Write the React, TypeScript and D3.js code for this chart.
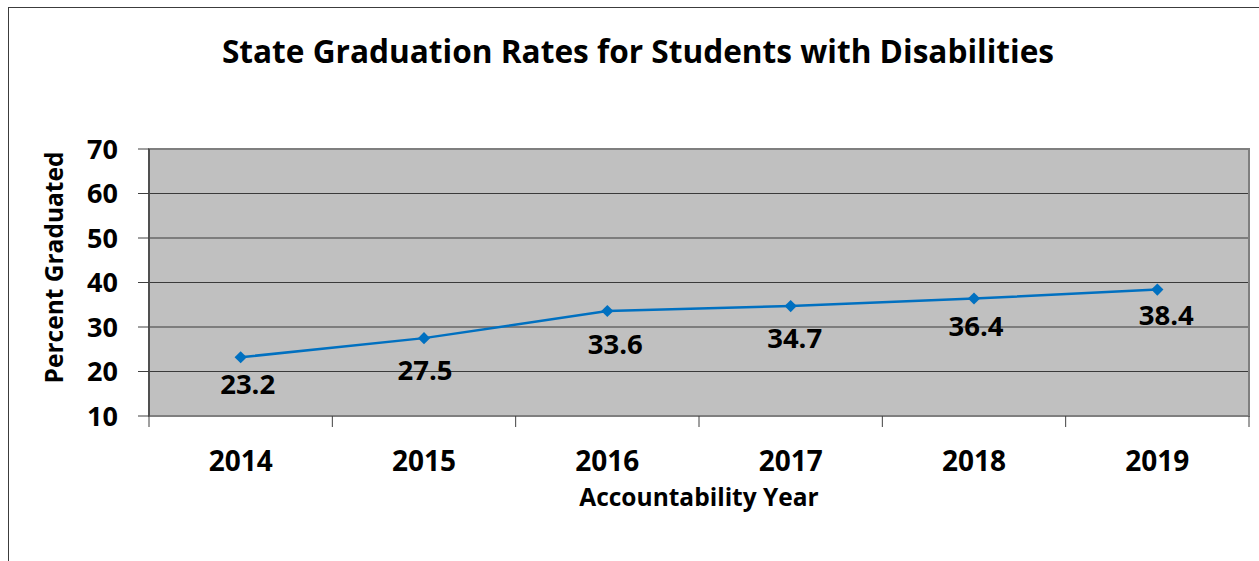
import React from "react";
import * as d3 from "d3";

const years = ["2014", "2015", "2016", "2017", "2018", "2019"];
const rates = [23.2, 27.5, 33.6, 34.7, 36.4, 38.4];
const yTicks = [10, 20, 30, 40, 50, 60, 70];
// per-label nudges (px) relative to the default "below" placement
const labelNudgeX = [7, 1, 8, 4, 2, 9];
const labelNudgeY = [-3, 2, 3, 2, -3, -5];

const title = "State Graduation Rates for Students with Disabilities";
const xTitle = "Accountability Year";
const yTitle = "Percent Graduated";

const W = 1259;
const H = 561;
const plot = { left: 149, top: 149, right: 1249, bottom: 416 };
const FONT = "'Open Sans', 'Liberation Sans', sans-serif";
const LINE = "#0070C0";

export default function App() {
  const x = d3.scaleBand<string>().domain(years).range([plot.left, plot.right]).padding(0);
  const y = d3.scaleLinear().domain([10, 70]).range([plot.bottom, plot.top]);
  const cx = (d: string) => (x(d) as number) + x.bandwidth() / 2;
  const line = d3
    .line<number>()
    .x((_, i) => cx(years[i]))
    .y((v) => y(v));
  const diamond = d3.symbol().type(d3.symbolDiamond2).size(95)();
  const bounds = [...years.map((d) => x(d) as number), plot.right];

  return (
    <svg
      width={W}
      height={H}
      style={{ position: "absolute", left: 0, top: 0, background: "#fff" }}
      fontFamily={FONT}
    >
      <rect x={8.5} y={7.5} width={1400} height={700} fill="none" stroke="#3c3c3c" strokeWidth={1} />
      <text x={638} y={63} textAnchor="middle" fontSize={31.6} fontWeight={700} fill="#000">
        {title}
      </text>
      <rect
        x={plot.left}
        y={plot.top}
        width={plot.right - plot.left}
        height={plot.bottom - plot.top}
        fill="#C0C0C0"
      />
      {yTicks.slice(1, -1).map((t) => (
        <line key={t} x1={plot.left} x2={plot.right} y1={y(t)} y2={y(t)} stroke="#3a3a3a" strokeWidth={1} />
      ))}
      <rect
        x={plot.left}
        y={plot.top}
        width={plot.right - plot.left}
        height={plot.bottom - plot.top}
        fill="none"
        stroke="#7f7f7f"
        strokeWidth={2}
      />
      <line x1={plot.left} x2={plot.left} y1={plot.top} y2={plot.bottom} stroke="#404040" strokeWidth={1.5} />
      {yTicks.map((t) => (
        <g key={t}>
          <line x1={plot.left - 11} x2={plot.left} y1={y(t)} y2={y(t)} stroke="#404040" strokeWidth={1} />
          <text
            x={118}
            y={y(t)}
            dy="0.36em"
            textAnchor="end"
            fontSize={27}
            fontWeight={700}
            fill="#000"
          >
            {t}
          </text>
        </g>
      ))}
      {bounds.map((b, i) => (
        <line key={i} x1={b} x2={b} y1={plot.bottom} y2={plot.bottom + 11} stroke="#404040" strokeWidth={1} />
      ))}
      {years.map((d) => (
        <text key={d} x={cx(d)} y={470.5} textAnchor="middle" fontSize={28} fontWeight={700} fill="#000">
          {d}
        </text>
      ))}
      <text x={699} y={506} textAnchor="middle" fontSize={24.5} fontWeight={700} fill="#000">
        {xTitle}
      </text>
      <text
        transform={`translate(63,${267.5}) rotate(-90)`}
        textAnchor="middle"
        fontSize={24.5}
        fontWeight={700}
        fill="#000"
      >
        {yTitle}
      </text>
      <path d={line(rates) || ""} fill="none" stroke={LINE} strokeWidth={2.5} />
      {rates.map((v, i) => (
        <path key={i} d={diamond || ""} transform={`translate(${cx(years[i])},${y(v)})`} fill={LINE} />
      ))}
      {rates.map((v, i) => (
        <text
          key={i}
          x={cx(years[i]) + labelNudgeX[i]}
          y={y(v) + 40 + labelNudgeY[i]}
          textAnchor="middle"
          fontSize={27.5}
          fontWeight={700}
          fill="#000"
        >
          {v.toFixed(1)}
        </text>
      ))}
    </svg>
  );
}
